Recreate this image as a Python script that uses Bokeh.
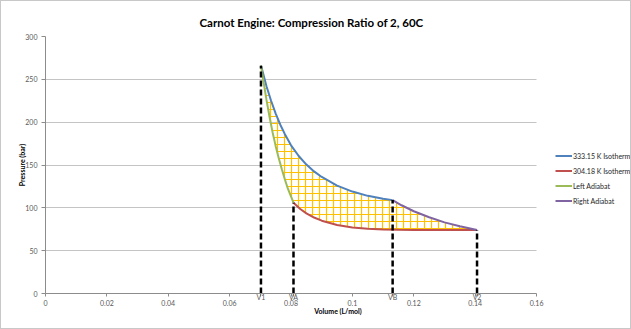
from bokeh.plotting import figure
from bokeh.models import Range1d, Legend, LegendItem, FixedTicker, InlineStyleSheet
from bokeh.embed import file_html
from bokeh.resources import INLINE

FONT = "Lato"

# 333.15 K isotherm (blue)
blue_v = [0.0702, 0.071, 0.072, 0.0735, 0.075, 0.0765, 0.078, 0.080, 0.0825, 0.085, 0.0875,
          0.090, 0.095, 0.100, 0.105, 0.110, 0.1131]
blue_p = [266, 255.5, 242, 225, 210, 197, 186, 173, 160.5, 150.5, 142.5,
          136, 126, 119, 114, 110.5, 109]
# 304.18 K isotherm (red)
red_v = [0.0808, 0.083, 0.085, 0.0875, 0.090, 0.095, 0.100, 0.105, 0.110, 0.115, 0.120, 0.130, 0.1406]
red_p = [106, 98.7, 93.6, 88.7, 85, 80, 77, 75.5, 74.8, 74.4, 74.2, 74.2, 74.1]
# Left adiabat (green)
green_v = [0.0702, 0.071, 0.072, 0.073, 0.074, 0.075, 0.076, 0.077, 0.078, 0.079, 0.0808]
green_p = [266, 248, 226, 206, 188, 172, 158, 145, 133, 122, 106]
# Right adiabat (purple)
purple_v = [0.1131, 0.116, 0.120, 0.125, 0.130, 0.135, 0.1406]
purple_p = [109, 103, 96, 89, 83, 78.5, 74.1]

# marked volumes
mark_names = ["V1", "VA", "VB", "V2"]
mark_v = [0.0702, 0.0808, 0.1131, 0.1406]
mark_p = [266, 106, 109, 74.1]

x_ticks = [0, 0.02, 0.04, 0.06, 0.08, 0.10, 0.12, 0.14, 0.16]
x_labels = ["0", "0.02", "0.04", "0.06", "0.08", "0.1", "0.12", "0.14", "0.16"]
y_ticks = [0, 50, 100, 150, 200, 250, 300]
x_max = 0.16
# the frame runs on to the right edge so that the legend sits inside it
x_view_end = 0.1906

p = figure(width=631, height=329, output_backend="svg", toolbar_location=None,
           x_range=Range1d(0, x_view_end), y_range=Range1d(0, 300),
           min_border_left=45, min_border_right=1, min_border_top=36, min_border_bottom=36)
p.stylesheets = [InlineStyleSheet(css=":host::after { content: ''; position: absolute; inset: 0; "
                                      "border: 1px solid #c8c8c8; pointer-events: none; z-index: 100; }")]

p.title.text = "Carnot Engine: Compression Ratio of 2, 60C"
p.title.align = "left"
p.title.offset = 154
p.title.text_font = FONT
p.title.text_font_size = "11.5px"
p.title.text_font_style = "bold"
p.title.text_color = "#000000"
p.title.standoff = 16

p.outline_line_color = None
p.xgrid.visible = False
p.ygrid.grid_line_color = "#c4c4c4"
p.ygrid.ticker = FixedTicker(ticks=y_ticks)
grid_ok = True
try:
    p.ygrid.cross_bounds = (0, x_max)
except Exception:
    grid_ok = False
if not grid_ok:
    p.ygrid.visible = False
    p.segment(x0=[0] * len(y_ticks), y0=y_ticks, x1=[x_max] * len(y_ticks), y1=y_ticks,
              line_color="#c4c4c4", line_width=1)

for ax in (p.xaxis[0], p.yaxis[0]):
    ax.axis_line_color = "#8c8c8c"
    ax.major_tick_line_color = "#8c8c8c"
    ax.minor_tick_line_color = None
    ax.major_tick_in = 0
    ax.major_label_text_font = FONT
    ax.major_label_text_font_size = "7px"
    ax.major_label_text_color = "#595959"
    ax.axis_label_text_font = FONT
    ax.axis_label_text_font_size = "7px"
    ax.axis_label_text_font_style = "bold"
    ax.axis_label_text_color = "#000000"

# x axis: value ticks (second label line) plus the marked volumes (first label line)
overrides = {t: "\n" + s for t, s in zip(x_ticks, x_labels)}
overrides.update({v: n for v, n in zip(mark_v, mark_names)})
p.xaxis.ticker = FixedTicker(ticks=sorted(x_ticks + mark_v))
p.xaxis.major_label_overrides = overrides
p.xaxis.bounds = (0, x_max)
p.xaxis.major_tick_out = 3
p.xaxis.major_label_standoff = -4
p.xaxis.major_label_text_line_height = 0.8
p.xaxis.axis_label = "Volume (L/mol)"
p.xaxis.axis_label_standoff = -3

p.yaxis.ticker = FixedTicker(ticks=y_ticks)
p.yaxis.major_tick_out = 4
p.yaxis.major_label_standoff = 4
p.yaxis.axis_label = "Pressure (bar)"
p.yaxis.axis_label_standoff = -4

# hatched cycle area
cyc_x = blue_v + purple_v[1:] + red_v[::-1][1:] + green_v[::-1][1:]
cyc_y = blue_p + purple_p[1:] + red_p[::-1][1:] + green_p[::-1][1:]
p.patch(cyc_x, cyc_y, fill_color=None, line_color=None, hatch_pattern="cross",
        hatch_color="#FFC000", hatch_scale=7, hatch_weight=1.2)

r_blue = p.line(blue_v, blue_p, line_color="#4F81BD", line_width=2)
r_red = p.line(red_v, red_p, line_color="#C0504D", line_width=2)
r_green = p.line(green_v, green_p, line_color="#9BBB59", line_width=2)
r_purple = p.line(purple_v, purple_p, line_color="#8064A2", line_width=2)

p.segment(x0=mark_v, y0=[0] * len(mark_v), x1=mark_v, y1=mark_p,
          line_color="black", line_width=2.5, line_dash="6 3")

legend = Legend(items=[
    LegendItem(label="333.15 K Isotherm", renderers=[r_blue]),
    LegendItem(label="304.18 K Isotherm", renderers=[r_red]),
    LegendItem(label="Left Adiabat", renderers=[r_green]),
    LegendItem(label="Right Adiabat", renderers=[r_purple]),
], location=(510, 85))
legend.background_fill_alpha = 0
legend.border_line_color = None
legend.padding = 0
legend.margin = 0
legend.spacing = 0
legend.glyph_width = 17
legend.glyph_height = 15
legend.label_height = 15
legend.label_standoff = 1
legend.label_text_font = FONT
legend.label_text_font_size = "7px"
legend.label_text_color = "#262626"
p.add_layout(legend)

open("out.html", "w").write(file_html(p, INLINE))
